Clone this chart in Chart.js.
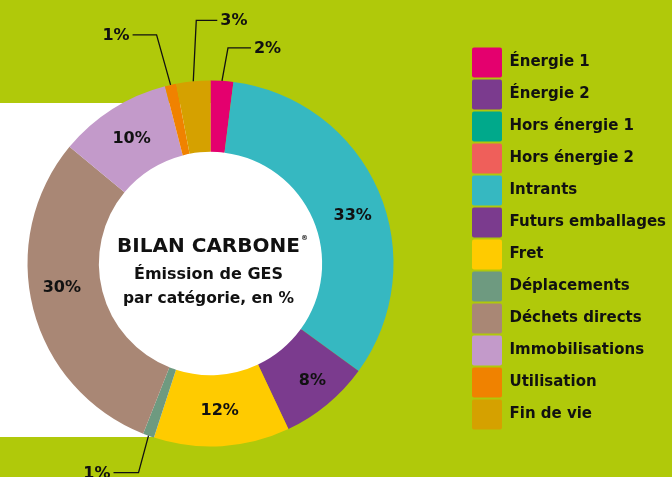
<!DOCTYPE html>
<html>
<head>
<meta charset="utf-8">
<script src="https://cdn.jsdelivr.net/npm/chart.js@4/dist/chart.umd.min.js"></script>
<style>
  html, body { margin: 0; padding: 0; background: #b0c90a; }
  #wrap { width: 672px; height: 477px; position: relative; overflow: hidden; }
  canvas { display: block; }
</style>
</head>
<body>
<div id="wrap"><canvas id="c" width="672" height="477"></canvas></div>
<script>
// ---- data ----
const categories = ['Énergie 1', 'Énergie 2', 'Hors énergie 1', 'Hors énergie 2', 'Intrants',
  'Futurs emballages', 'Fret', 'Déplacements', 'Déchets directs', 'Immobilisations',
  'Utilisation', 'Fin de vie'];
const shares = [2, 0, 0, 0, 33, 8, 12, 1, 30, 10, 1, 3];
const sliceColors = ['#e4006e', '#7b3b8e', '#00a98b', '#ef5f5a', '#36b8c1', '#7b3b8e',
  '#ffcb00', '#6e9a80', '#a98775', '#c39aca', '#f08200', '#d5a100'];
const centerTitle = ['BILAN CARBONE', 'Émission de GES', 'par catégorie, en %'];

// ---- styles ----
const BG = '#b0c90a';
const INK = '#111111';
const FONT = "'DejaVu Sans', sans-serif";
// leader-line callouts for the small slices (offsets from the slice's outer edge)
const callouts = {
  0:  { dx: 6,   dy: -33, arm: 23 },
  7:  { dx: -10, dy: 37,  arm: -25 },
  10: { dx: -14, dy: -50, arm: -24 },
  11: { dx: 3,   dy: -61, arm: 21 }
};
const innerLabelNudge = { 4: [7, 11], 5: [8, 4], 8: [-6, -12] };

// extra layout boxes so the ring sits where the original puts it
const layoutSpacers = {
  id: 'layoutSpacers',
  beforeInit(chart) {
    const mk = (position, size) => ({
      position, weight: -10, fullSize: false, options: { display: false },
      left: 0, top: 0, right: 0, bottom: 0, width: 0, height: 0,
      isHorizontal() { return position === 'top' || position === 'bottom'; },
      update(maxWidth, maxHeight) {
        if (this.isHorizontal()) { this.width = maxWidth; this.height = size; }
        else { this.width = size; this.height = maxHeight; }
      },
      draw() {}
    });
    Chart.layouts.addBox(chart, mk('top', 50));
    Chart.layouts.addBox(chart, mk('right', 49));
  }
};

const backdrop = {
  id: 'backdrop',
  beforeDraw(chart) {
    const ctx = chart.ctx;
    const arc = chart.getDatasetMeta(0).data.find(a => a);
    ctx.save();
    ctx.fillStyle = BG;
    ctx.fillRect(0, 0, chart.width, chart.height);
    ctx.fillStyle = '#ffffff';
    ctx.fillRect(0, 103, arc.x, 334);
    ctx.beginPath();
    ctx.arc(arc.x, arc.y, arc.innerRadius + 1, 0, Math.PI * 2);
    ctx.fill();
    ctx.restore();
  }
};

const sliceLabels = {
  id: 'sliceLabels',
  afterDatasetsDraw(chart) {
    const ctx = chart.ctx;
    const meta = chart.getDatasetMeta(0);
    ctx.save();
    ctx.fillStyle = INK;
    ctx.strokeStyle = INK;
    ctx.lineWidth = 1.3;
    ctx.font = 'bold 16px ' + FONT;
    ctx.textBaseline = 'middle';
    meta.data.forEach((arc, i) => {
      const v = shares[i];
      if (!v) return;
      const p = arc.getProps(['x', 'y', 'startAngle', 'endAngle', 'innerRadius', 'outerRadius'], true);
      const mid = (p.startAngle + p.endAngle) / 2;
      const txt = v + '%';
      const co = callouts[i];
      if (co) {
        const ax = p.x + Math.cos(mid) * p.outerRadius;
        const ay = p.y + Math.sin(mid) * p.outerRadius;
        const ex = ax + co.dx, ey = ay + co.dy;
        const hx = ex + co.arm;
        ctx.beginPath();
        ctx.moveTo(ax, ay);
        ctx.lineTo(ex, ey);
        ctx.lineTo(hx, ey);
        ctx.stroke();
        ctx.textAlign = co.arm < 0 ? 'right' : 'left';
        ctx.fillText(txt, hx + (co.arm < 0 ? -3 : 3), ey + 1);
      } else {
        const r = (p.innerRadius + p.outerRadius) / 2;
        const n = innerLabelNudge[i] || [0, 0];
        ctx.textAlign = 'center';
        ctx.fillText(txt, p.x + Math.cos(mid) * r + n[0], p.y + Math.sin(mid) * r + n[1]);
      }
    });
    // centre title
    const a0 = meta.data[0];
    ctx.textAlign = 'center';
    ctx.textBaseline = 'alphabetic';
    ctx.font = 'bold 20px ' + FONT;
    ctx.fillText(centerTitle[0], a0.x - 2, a0.y - 12);
    const w0 = ctx.measureText(centerTitle[0]).width;
    ctx.font = 'bold 7px ' + FONT;
    ctx.textAlign = 'left';
    ctx.fillText('®', a0.x - 2 + w0 / 2 + 1, a0.y - 24);
    ctx.textAlign = 'center';
    ctx.font = 'bold 16px ' + FONT;
    ctx.fillText(centerTitle[1], a0.x - 2, a0.y + 15);
    ctx.font = 'bold 15.5px ' + FONT;
    ctx.fillText(centerTitle[2], a0.x - 2, a0.y + 39);
    ctx.restore();
  }
};

new Chart(document.getElementById('c'), {
  type: 'doughnut',
  data: {
    labels: categories,
    datasets: [{
      data: shares,
      backgroundColor: sliceColors,
      borderWidth: 0,
      hoverOffset: 0
    }]
  },
  options: {
    responsive: false,
    animation: false,
    devicePixelRatio: 1,
    radius: 183,
    cutout: '61%',
    rotation: 0,
    layout: { padding: 0 },
    events: [],
    plugins: {
      tooltip: { enabled: false },
      legend: {
        position: 'right',
        align: 'center',
        maxWidth: 202,
        labels: {
          boxWidth: 30,
          boxHeight: 30,
          padding: 2,
          useBorderRadius: true,
          borderRadius: 2,
          color: INK,
          font: { family: FONT, size: 15, weight: 'bold' }
        }
      }
    }
  },
  plugins: [layoutSpacers, backdrop, sliceLabels]
});
</script>
</body>
</html>
